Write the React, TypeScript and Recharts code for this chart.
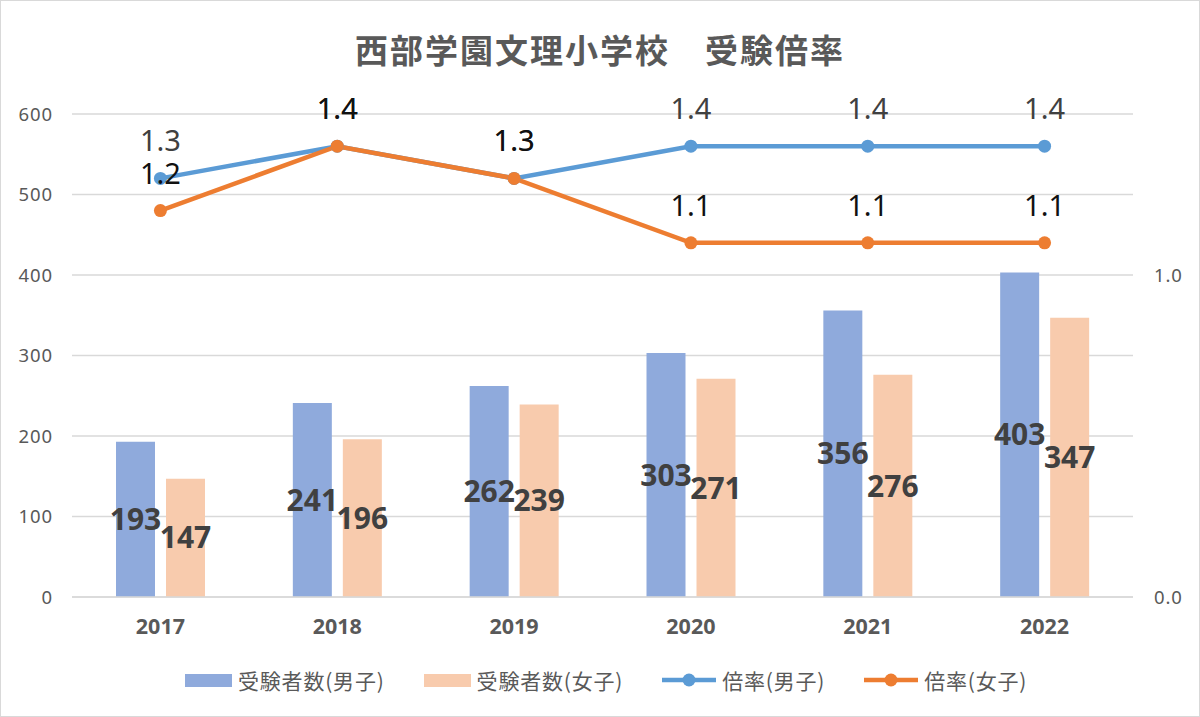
import React from 'react'
import {
  Bar,
  CartesianGrid,
  ComposedChart,
  LabelList,
  Line,
  XAxis,
  YAxis,
} from 'recharts'

const years = ['2017', '2018', '2019', '2020', '2021', '2022']
const boysApplicants = [193, 241, 262, 303, 356, 403]
const girlsApplicants = [147, 196, 239, 271, 276, 347]
const boysRatio = [1.3, 1.4, 1.3, 1.4, 1.4, 1.4]
const girlsRatio = [1.2, 1.4, 1.3, 1.1, 1.1, 1.1]
const leftTicks = [0, 100, 200, 300, 400, 500, 600]
const rightTicks = [0, 1]

const seriesNames = ['受験者数(男子)', '受験者数(女子)', '倍率(男子)', '倍率(女子)']
const colors = {
  boysBar: '#8faadc',
  girlsBar: '#f8cbad',
  boysLine: '#5b9bd5',
  girlsLine: '#ed7d31',
}

const data = years.map((year, i) => ({
  year,
  boys: boysApplicants[i],
  girls: girlsApplicants[i],
  boysRatio: boysRatio[i],
  girlsRatio: girlsRatio[i],
}))

const font = '"Noto Sans", "Noto Sans CJK JP", sans-serif'
const cjkFont = '"Noto Sans CJK JP", "Noto Sans", sans-serif'

function LegendRow() {
  const items = [
    { name: seriesNames[0], type: 'rect', color: colors.boysBar },
    { name: seriesNames[1], type: 'rect', color: colors.girlsBar },
    { name: seriesNames[2], type: 'line', color: colors.boysLine },
    { name: seriesNames[3], type: 'line', color: colors.girlsLine },
  ]
  return (
    <div
      style={{
        position: 'absolute',
        left: 185,
        top: 666,
        display: 'flex',
        alignItems: 'center',
        gap: 39,
        fontFamily: cjkFont,
        fontSize: 21,
        letterSpacing: 0.8,
        color: '#595959',
        lineHeight: '28px',
      }}
    >
      {items.map((it) => (
        <div key={it.name} style={{ display: 'flex', alignItems: 'center', gap: 6 }}>
          {it.type === 'rect' ? (
            <div style={{ width: 47, height: 13, background: it.color }} />
          ) : (
            <svg width={54} height={14}>
              <line x1={0} y1={7} x2={54} y2={7} stroke={it.color} strokeWidth={4.5} strokeLinecap="round" />
              <circle cx={27} cy={7} r={6.5} fill={it.color} />
            </svg>
          )}
          <span>{it.name}</span>
        </div>
      ))}
    </div>
  )
}

export default function App() {
  return (
    <div
      style={{
        position: 'absolute',
        left: 0,
        top: 0,
        width: 1200,
        height: 717,
        background: '#fff',
        overflow: 'hidden',
      }}
    >
      <div
        style={{
          position: 'absolute',
          left: 0,
          right: 0,
          top: 27,
          textAlign: 'center',
          fontFamily: cjkFont,
          fontWeight: 700,
          fontSize: 33,
          letterSpacing: 2,
          color: '#595959',
          lineHeight: '44px',
        }}
      >
        西部学園文理小学校　受験倍率
      </div>

      <div style={{ position: 'absolute', left: 0, top: 0 }}>
        <ComposedChart
          width={1200}
          height={717}
          data={data}
          margin={{ top: 114, right: 0, bottom: 80, left: 0 }}
          barSize={39}
          barGap={11}
        >
          <CartesianGrid yAxisId="left" vertical={false} stroke="#d9d9d9" strokeWidth={1.3} />
          <XAxis
            dataKey="year"
            height={40}
            axisLine={{ stroke: '#d9d9d9', strokeWidth: 1.3 }}
            tickLine={false}
            tickSize={0}
            tickMargin={22}
            tick={{ fill: '#595959', fontSize: 21.5, fontWeight: 700, fontFamily: font }}
          />
          <YAxis
            yAxisId="left"
            width={72}
            domain={[0, 600]}
            ticks={leftTicks}
            axisLine={false}
            tickLine={false}
            tickSize={0}
            tickMargin={19}
            tick={{ fill: '#595959', fontSize: 18.5, fontFamily: font, letterSpacing: 0.9 }}
          />
          <YAxis
            yAxisId="right"
            orientation="right"
            width={67}
            domain={[0, 1.5]}
            ticks={rightTicks}
            tickFormatter={(v) => Number(v).toFixed(1)}
            axisLine={false}
            tickLine={false}
            tickSize={0}
            tickMargin={21}
            tick={{ fill: '#595959', fontSize: 18.5, fontFamily: font, letterSpacing: 0.9 }}
          />
          <Bar yAxisId="left" dataKey="boys" name={seriesNames[0]} fill={colors.boysBar} isAnimationActive={false}>
            <LabelList
              dataKey="boys"
              position="center"
              fill="#404040"
              fontSize={30}
              fontWeight={700}
              fontFamily={font}
            />
          </Bar>
          <Bar yAxisId="left" dataKey="girls" name={seriesNames[1]} fill={colors.girlsBar} isAnimationActive={false}>
            <LabelList
              dataKey="girls"
              position="center"
              fill="#404040"
              fontSize={30}
              fontWeight={700}
              fontFamily={font}
            />
          </Bar>
          <Line
            yAxisId="right"
            dataKey="boysRatio"
            name={seriesNames[2]}
            stroke={colors.boysLine}
            strokeWidth={4.5}
            dot={{ r: 6.5, fill: colors.boysLine, stroke: 'none' }}
            activeDot={false}
            isAnimationActive={false}
          >
            <LabelList
              dataKey="boysRatio"
              position="top"
              offset={27}
              fill="#404040"
              fontSize={29}
              fontFamily={font}
              formatter={(v) => Number(v).toFixed(1)}
            />
          </Line>
          <Line
            yAxisId="right"
            dataKey="girlsRatio"
            name={seriesNames[3]}
            stroke={colors.girlsLine}
            strokeWidth={4.5}
            dot={{ r: 6.5, fill: colors.girlsLine, stroke: 'none' }}
            activeDot={false}
            isAnimationActive={false}
          >
            <LabelList
              dataKey="girlsRatio"
              position="top"
              offset={27}
              fill="#111"
              fontSize={29}
              fontFamily={font}
              formatter={(v) => Number(v).toFixed(1)}
            />
          </Line>
        </ComposedChart>
      </div>

      <LegendRow />

      <div
        style={{
          position: 'absolute',
          inset: 0,
          border: '1.5px solid #d9d9d9',
          pointerEvents: 'none',
        }}
      />
    </div>
  )
}
